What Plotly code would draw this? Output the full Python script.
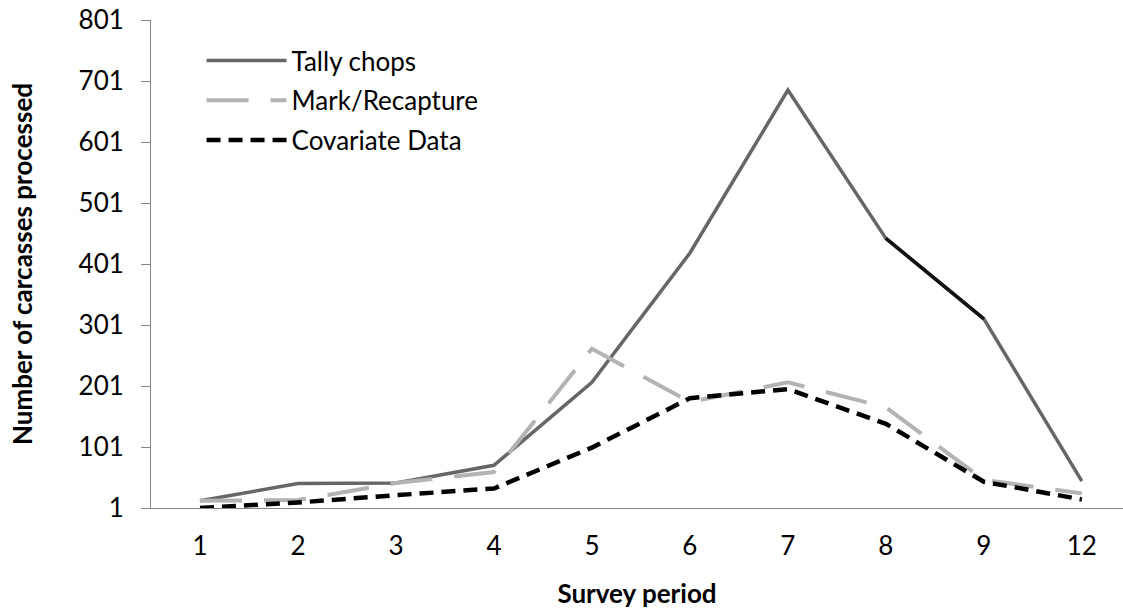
import plotly.graph_objects as go

# Datos
periods = ['1', '2', '3', '4', '5', '6', '7', '8', '9', '12']
tally_chops = [13, 41, 42, 71, 207, 419, 686, 443, 311, 45]
mark_recapture = [13, 14, 42, 60, 262, 175, 207, 166, 47, 25]
covariate_data = [1, 10, 22, 33, 100, 181, 196, 139, 44, 15]
y_ticks = [1, 101, 201, 301, 401, 501, 601, 701, 801]

FONT = 'Lato, "Open Sans", sans-serif'
AXIS_GRAY = '#868686'

fig = go.Figure()

fig.add_trace(go.Scatter(
    x=periods, y=tally_chops, mode='lines', name='Tally chops',
    legendgroup='a',
    line=dict(color='#666666', width=3.5)
))
# tramo 8-9 en negro, como en el original
fig.add_trace(go.Scatter(
    x=periods[7:9], y=tally_chops[7:9], mode='lines', showlegend=False,
    legendgroup='a', hoverinfo='skip',
    line=dict(color='#111111', width=3.5)
))
fig.add_trace(go.Scatter(
    x=periods, y=mark_recapture, mode='lines', name='Mark/Recapture',
    legendgroup='b',
    line=dict(color='#b3b3b3', width=4, dash='42px,22px')
))
fig.add_trace(go.Scatter(
    x=periods, y=covariate_data, mode='lines', name='Covariate Data',
    legendgroup='c',
    line=dict(color='#000000', width=4.5, dash='14px,8px')
))

fig.update_layout(
    width=1123, height=613,
    margin=dict(l=151, r=0, t=20, b=105),
    plot_bgcolor='white', paper_bgcolor='white',
    font=dict(family=FONT, size=26, color='black'),
    showlegend=True,
    legend=dict(
        x=0.052, y=0.965, xanchor='left', yanchor='top',
        bgcolor='rgba(0,0,0,0)', font=dict(size=26),
        tracegroupgap=3, itemwidth=80
    ),
    xaxis=dict(
        type='category', range=[-0.5, 9.42],
        showline=True, linecolor=AXIS_GRAY, linewidth=1,
        ticks='', showgrid=False, zeroline=False,
        ticklabelstandoff=15,
        title=dict(text='<b>Survey period</b>', standoff=24,
                   font=dict(size=26))
    ),
    yaxis=dict(
        range=[1, 801], tickvals=y_ticks,
        showline=True, linecolor=AXIS_GRAY, linewidth=1,
        ticks='outside', ticklen=9, tickcolor=AXIS_GRAY,
        showgrid=False, zeroline=False, ticklabelstandoff=12,
        title=dict(text='<b>Number of carcasses processed</b>', standoff=38,
                   font=dict(size=26))
    )
)

# quitar el margen por defecto del body para que el gráfico quede en (0, 0)
fig.write_html("out.html", config={'displayModeBar': False},
               post_script="document.body.style.margin='0';")
